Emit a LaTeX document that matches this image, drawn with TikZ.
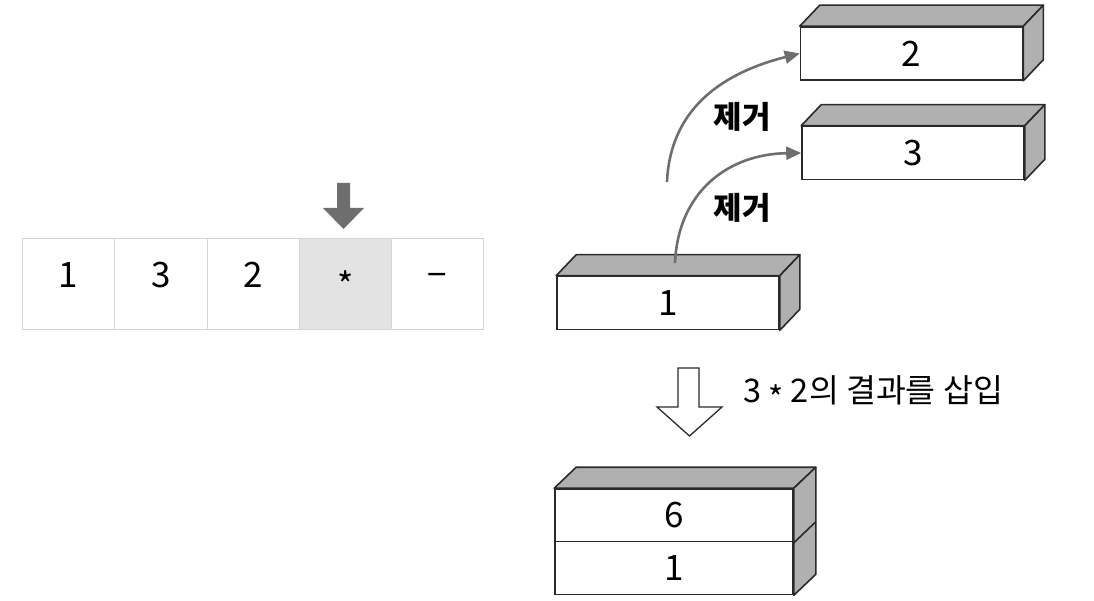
\documentclass[tikz,border=0pt]{standalone}
\usepackage{fontspec}
\setmainfont{Noto Sans CJK KR}
\usetikzlibrary{arrows.meta,calc}
\definecolor{cellline}{HTML}{D4D4D4}
\definecolor{cellhi}{HTML}{E3E3E3}
\definecolor{arrowgray}{HTML}{6E6E6E}
\definecolor{boxline}{HTML}{2A2A2A}
\definecolor{sidegray}{HTML}{B0B0B0}
\tikzset{
  cell/.style={draw=cellline, line width=1pt, fill=white, minimum width=92.5, minimum height=90, inner sep=0pt, text height=0.73em, text depth=0pt, font=\fontsize{35}{40}\selectfont},
  front/.style={draw=boxline, line width=1.6pt, fill=white, minimum width=222, minimum height=53, inner sep=0pt, font=\fontsize{35}{40}\selectfont},
  side/.style={draw=boxline, line width=1.6pt, fill=sidegray, line join=round},
  curvearrow/.style={draw=arrowgray, line width=2.6pt, -{Triangle[length=15pt,width=13pt]}},
  label/.style={font=\fontsize{31}{36}\selectfont\bfseries, inner sep=0pt},
  note/.style={font=\fontsize{32.5}{36}\selectfont, inner sep=0pt, anchor=west},
}
\newcommand\midstar{\raisebox{-0.22em}{*}}
\begin{document}
\begin{tikzpicture}[x=1pt,y=-1pt]
\useasboundingbox (0,0) rectangle (1094,601);
% array
\node[cell] (c1) at (68.5,284) {1};
\node[cell] (c2) at (161,284) {3};
\node[cell] (c3) at (253.5,284) {2};
\node[cell, fill=cellhi] (c4) at (346,284) {\raisebox{-0.3em}{*}};
\node[cell] (c5) at (437.5,284) {−};
% filled pointer arrow
\fill[arrowgray] (337,183) -- (350,183) -- (350,208) -- (364,208) -- (343.5,229) -- (323,208) -- (337,208) -- cycle;
% box 2
\node[front] (b2) at (911.5,53.5) {2};
\path[side] (b2.north west) -- ++(20,-21) -- ($(b2.north east)+(20,-21)$) -- (b2.north east) -- cycle;
\path[side] (b2.north east) -- ++(20,-21) -- ($(b2.south east)+(20,-21)$) -- (b2.south east) -- cycle;
% box 3
\node[front] (b3) at (913,153) {3};
\path[side] (b3.north west) -- ++(20,-21) -- ($(b3.north east)+(20,-21)$) -- (b3.north east) -- cycle;
\path[side] (b3.north east) -- ++(20,-21) -- ($(b3.south east)+(20,-21)$) -- (b3.south east) -- cycle;
% box 1
\node[front] (b1) at (668,303) {1};
\path[side] (b1.north west) -- ++(20,-21) -- ($(b1.north east)+(20,-21)$) -- (b1.north east) -- cycle;
\path[side] (b1.north east) -- ++(20,-21) -- ($(b1.south east)+(20,-21)$) -- (b1.south east) -- cycle;
% curved arrows
\coordinate (a1s) at (667,182);
\coordinate (a2s) at (675,263);
\draw[curvearrow] (a1s) .. controls (670,112) and (718,74) .. (b2.west);
\draw[curvearrow] (a2s) .. controls (678,192) and (728,154) .. (b3.west);
\node[label] (l1) at (742,117) {제거};
\node[label] (l2) at (742,208) {제거};
% hollow arrow
\draw[boxline, line width=1.3pt, fill=white, line join=miter] (678,368) -- (699,368) -- (699,407) -- (722,407) -- (689.5,436) -- (657,407) -- (678,407) -- cycle;
\node[note] (t) at (743,393) {3 \midstar{} 2의 결과를 삽입};
% stack
\node[front, minimum width=238] (s6) at (674,515.5) {6};
\node[front, minimum width=238] (s1) at (674,568) {1};
\path[side] (s6.north west) -- ++(22,-21) -- ($(s6.north east)+(22,-21)$) -- (s6.north east) -- cycle;
\path[side] (s6.north east) -- ++(22,-21) -- ($(s1.south east)+(22,-21)$) -- (s1.south east) -- cycle;
\draw[boxline, line width=1.6pt] (s6.south east) -- ++(22,-21);
\end{tikzpicture}
\end{document}
